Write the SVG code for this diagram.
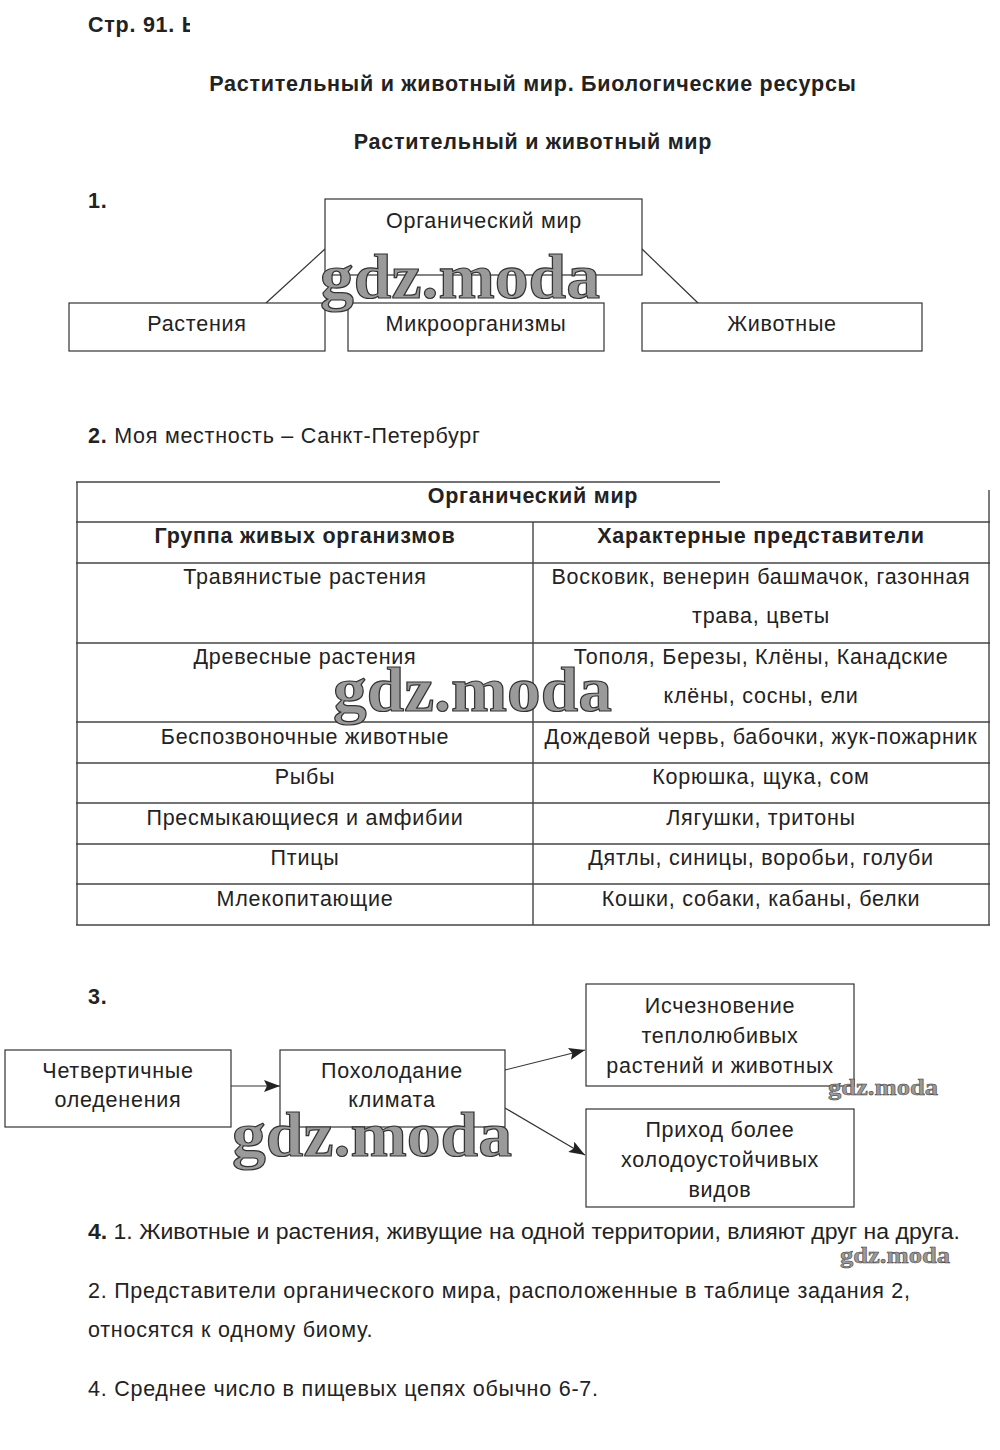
<svg xmlns="http://www.w3.org/2000/svg" width="1000" height="1450" viewBox="0 0 1000 1450">
<style>
text{font-family:"Liberation Sans",Arial,sans-serif;fill:#222}
.t{font-size:21.5px;letter-spacing:0.75px}
.b{font-weight:bold}
.c{text-anchor:middle}
.box{fill:#fff;stroke:#333;stroke-width:1.2}
.ln{stroke:#333;stroke-width:1.2;fill:none}
.tl{stroke:#444;stroke-width:1.4;fill:none}
.wm{font-family:"Liberation Serif","DejaVu Serif",serif;font-weight:bold;fill:#9a9a9a;stroke:#333;stroke-width:1.2;letter-spacing:0}
</style>
<defs>
<marker id="ar" markerWidth="16" markerHeight="12" refX="16" refY="6" orient="auto" markerUnits="userSpaceOnUse">
<path d="M0,0 L16,6 L0,12 L3,6 z" fill="#222"/>
</marker>
<clipPath id="hc"><rect x="0" y="0" width="190" height="60"/></clipPath>
</defs>
<rect width="1000" height="1450" fill="#fff"/>

<text x="88" y="32" class="t b" clip-path="url(#hc)">Стр. 91. Ь</text>
<text x="533" y="91" class="t b c">Растительный и животный мир. Биологические ресурсы</text>
<text x="533" y="149" class="t b c">Растительный и животный мир</text>

<!-- Section 1 -->
<text x="88" y="208" class="t b">1.</text>
<g id="connectors1">
<line class="ln" x1="325" y1="249" x2="266" y2="303"/>
<line class="ln" x1="642" y1="249" x2="698" y2="303"/>
</g>
<g id="n-organic">
<rect class="box" x="325" y="199" width="317" height="76"/>
<text x="484" y="228" class="t c">Органический мир</text>
</g>
<g id="n-plants">
<rect class="box" x="69" y="303" width="256" height="48"/>
<text x="197" y="331" class="t c">Растения</text>
</g>
<g id="n-micro">
<rect class="box" x="348" y="303" width="256" height="48"/>
<text x="476" y="331" class="t c">Микроорганизмы</text>
</g>
<g id="n-animals">
<rect class="box" x="642" y="303" width="280" height="48"/>
<text x="782" y="331" class="t c">Животные</text>
</g>

<!-- Section 2 -->
<text x="88" y="443" class="t"><tspan class="b">2.</tspan> Моя местность – Санкт-Петербург</text>
<g id="table">
<line class="tl" x1="76" y1="482" x2="720" y2="482"/>
<line class="tl" x1="77" y1="482" x2="77" y2="925"/>
<line class="tl" x1="989" y1="490" x2="989" y2="925"/>
<line class="tl" x1="533" y1="522" x2="533" y2="925"/>
<line class="tl" x1="76" y1="522" x2="990" y2="522"/>
<line class="tl" x1="76" y1="563" x2="990" y2="563"/>
<line class="tl" x1="76" y1="643" x2="990" y2="643"/>
<line class="tl" x1="76" y1="722" x2="990" y2="722"/>
<line class="tl" x1="76" y1="763" x2="990" y2="763"/>
<line class="tl" x1="76" y1="803" x2="990" y2="803"/>
<line class="tl" x1="76" y1="844" x2="990" y2="844"/>
<line class="tl" x1="76" y1="884" x2="990" y2="884"/>
<line class="tl" x1="76" y1="925" x2="990" y2="925"/>
<text x="533" y="503" class="t b c">Органический мир</text>
<text x="305" y="543" class="t b c">Группа живых организмов</text>
<text x="761" y="543" class="t b c">Характерные представители</text>
<text x="305" y="584" class="t c">Травянистые растения</text>
<text x="761" y="584" class="t c">Восковик, венерин башмачок, газонная</text>
<text x="761" y="623" class="t c">трава, цветы</text>
<text x="305" y="664" class="t c">Древесные растения</text>
<text x="761" y="664" class="t c">Тополя, Березы, Клёны, Канадские</text>
<text x="761" y="703" class="t c">клёны, сосны, ели</text>
<text x="305" y="744" class="t c">Беспозвоночные животные</text>
<text x="761" y="744" class="t c">Дождевой червь, бабочки, жук-пожарник</text>
<text x="305" y="784" class="t c">Рыбы</text>
<text x="761" y="784" class="t c">Корюшка, щука, сом</text>
<text x="305" y="825" class="t c">Пресмыкающиеся и амфибии</text>
<text x="761" y="825" class="t c">Лягушки, тритоны</text>
<text x="305" y="865" class="t c">Птицы</text>
<text x="761" y="865" class="t c">Дятлы, синицы, воробьи, голуби</text>
<text x="305" y="906" class="t c">Млекопитающие</text>
<text x="761" y="906" class="t c">Кошки, собаки, кабаны, белки</text>
</g>

<!-- Section 3 -->
<text x="88" y="1004" class="t b">3.</text>
<g id="connectors3">
<line class="ln" x1="231" y1="1086" x2="280" y2="1086" marker-end="url(#ar)"/>
<line class="ln" x1="505" y1="1070" x2="585" y2="1050" marker-end="url(#ar)"/>
<line class="ln" x1="505" y1="1108" x2="585" y2="1155" marker-end="url(#ar)"/>
</g>
<g id="n-glacial">
<rect class="box" x="5" y="1050" width="226" height="77"/>
<text x="118" y="1078" class="t c">Четвертичные</text>
<text x="118" y="1107" class="t c">оледенения</text>
</g>
<g id="n-cooling">
<rect class="box" x="280" y="1050" width="225" height="77"/>
<text x="392" y="1078" class="t c">Похолодание</text>
<text x="392" y="1107" class="t c">климата</text>
</g>
<g id="n-extinct">
<rect class="box" x="586" y="984" width="268" height="102"/>
<text x="720" y="1013" class="t c">Исчезновение</text>
<text x="720" y="1043" class="t c">теплолюбивых</text>
<text x="720" y="1073" class="t c">растений и животных</text>
</g>
<g id="n-arrival">
<rect class="box" x="586" y="1109" width="268" height="98"/>
<text x="720" y="1137" class="t c">Приход более</text>
<text x="720" y="1167" class="t c">холодоустойчивых</text>
<text x="720" y="1197" class="t c">видов</text>
</g>

<!-- Section 4 -->
<text x="88" y="1239" style="font-size:21.5px" textLength="872" lengthAdjust="spacingAndGlyphs"><tspan class="b">4.</tspan> 1. Животные и растения, живущие на одной территории, влияют друг на друга.</text>
<text x="88" y="1298" class="t">2. Представители органического мира, расположенные в таблице задания 2,</text>
<text x="88" y="1337" class="t">относятся к одному биому.</text>
<text x="88" y="1396" class="t">4. Среднее число в пищевых цепях обычно 6-7.</text>

<!-- watermarks -->
<g id="watermarks">
<text class="wm" x="320" y="298" font-size="64" textLength="280" lengthAdjust="spacingAndGlyphs">gdz.moda</text>
<text class="wm" x="333" y="711" font-size="64" textLength="279" lengthAdjust="spacingAndGlyphs">gdz.moda</text>
<text class="wm" x="232" y="1156" font-size="64" textLength="280" lengthAdjust="spacingAndGlyphs">gdz.moda</text>
<text class="wm" x="828" y="1095" font-size="24" textLength="110" lengthAdjust="spacingAndGlyphs" style="stroke-width:0.5">gdz.moda</text>
<text class="wm" x="840" y="1263" font-size="24" textLength="110" lengthAdjust="spacingAndGlyphs" style="stroke-width:0.5">gdz.moda</text>
</g>
</svg>
